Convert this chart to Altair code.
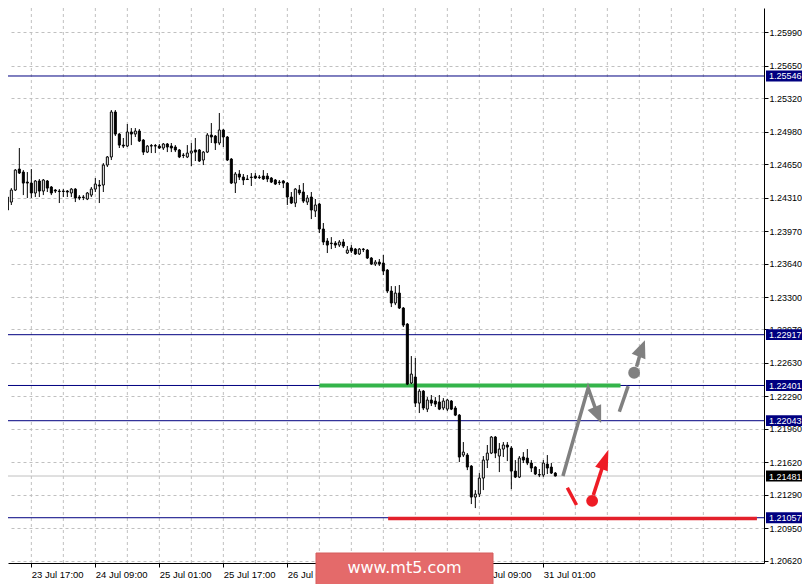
import json
import altair as alt
import pandas as pd

# ---------------- data (H1 bars, 23 Jul 09:00 ... 31 Jul 04:00) ----------------
bar_open = [1.24529, 1.24540, 1.24316, 1.24265, 1.24387, 1.24600, 1.24570, 1.24468, 1.24458, 1.24357,
            1.24479, 1.24377, 1.24479, 1.24418, 1.24387, 1.24377, 1.24377, 1.24377, 1.24357, 1.24397,
            1.24316, 1.24316, 1.24296, 1.24336, 1.24397, 1.24438, 1.24438, 1.24641, 1.24723, 1.25180,
            1.24956, 1.24844, 1.24834, 1.24977, 1.24956, 1.24987, 1.24895, 1.24773, 1.24839, 1.24839,
            1.24834, 1.24814, 1.24855, 1.24834, 1.24824, 1.24794, 1.24743, 1.24723, 1.24763, 1.24794,
            1.24794, 1.24692, 1.24773, 1.24946, 1.24936, 1.24865, 1.24997, 1.24926, 1.24702, 1.24458,
            1.24550, 1.24519, 1.24499, 1.24519, 1.24529, 1.24519, 1.24529, 1.24529, 1.24509, 1.24489,
            1.24468, 1.24479, 1.24458, 1.24316, 1.24255, 1.24387, 1.24367, 1.24265, 1.24316, 1.24174,
            1.24245, 1.23991, 1.23869, 1.23848, 1.23848, 1.23828, 1.23859, 1.23747, 1.23798, 1.23787,
            1.23737, 1.23787, 1.23777, 1.23696, 1.23635, 1.23655, 1.23645, 1.23574, 1.23361, 1.23239,
            1.23340, 1.23188, 1.23025, 1.22426, 1.22487, 1.22222, 1.22344, 1.22161, 1.22253, 1.22243,
            1.22233, 1.22172, 1.22161, 1.22243, 1.22172, 1.22100, 1.21694, 1.21694, 1.21582, 1.21267,
            1.21297, 1.21460, 1.21643, 1.21714, 1.21877, 1.21684, 1.21755, 1.21796, 1.21765, 1.21531,
            1.21470, 1.21674, 1.21663, 1.21613, 1.21572, 1.21496, 1.21491, 1.21602, 1.21572, 1.21511]
bar_high = [1.24570, 1.24560, 1.24336, 1.24407, 1.24600, 1.24814, 1.24590, 1.24570, 1.24600, 1.24489,
            1.24499, 1.24499, 1.24489, 1.24428, 1.24397, 1.24397, 1.24397, 1.24387, 1.24407, 1.24407,
            1.24336, 1.24336, 1.24367, 1.24418, 1.24509, 1.24489, 1.24661, 1.24733, 1.25200, 1.25200,
            1.24966, 1.24916, 1.25058, 1.25017, 1.25017, 1.25007, 1.24905, 1.24844, 1.24855, 1.24855,
            1.24855, 1.24865, 1.24865, 1.24865, 1.24844, 1.24804, 1.24763, 1.24844, 1.24865, 1.24916,
            1.24804, 1.24783, 1.24966, 1.25068, 1.24946, 1.25170, 1.25007, 1.24936, 1.24712, 1.24570,
            1.24590, 1.24550, 1.24540, 1.24560, 1.24560, 1.24540, 1.24590, 1.24560, 1.24519, 1.24499,
            1.24489, 1.24489, 1.24468, 1.24367, 1.24407, 1.24438, 1.24458, 1.24336, 1.24367, 1.24296,
            1.24255, 1.24052, 1.23899, 1.23909, 1.23869, 1.23879, 1.23889, 1.23818, 1.23828, 1.23798,
            1.23798, 1.23798, 1.23787, 1.23706, 1.23676, 1.23686, 1.23727, 1.23584, 1.23411, 1.23411,
            1.23422, 1.23198, 1.23035, 1.22700, 1.22680, 1.22365, 1.22354, 1.22283, 1.22304, 1.22283,
            1.22304, 1.22273, 1.22263, 1.22253, 1.22192, 1.22111, 1.21826, 1.21714, 1.21592, 1.21338,
            1.21511, 1.21684, 1.21796, 1.21887, 1.21887, 1.21816, 1.21826, 1.21826, 1.21785, 1.21643,
            1.21684, 1.21724, 1.21755, 1.21643, 1.21582, 1.21552, 1.21643, 1.21694, 1.21613, 1.21521]
bar_low = [1.24387, 1.24316, 1.24164, 1.24235, 1.24377, 1.24550, 1.24336, 1.24306, 1.24306, 1.24316,
           1.24316, 1.24336, 1.24367, 1.24336, 1.24357, 1.24255, 1.24316, 1.24316, 1.24316, 1.24265,
           1.24285, 1.24285, 1.24285, 1.24316, 1.24367, 1.24255, 1.24367, 1.24621, 1.24692, 1.24936,
           1.24814, 1.24814, 1.24824, 1.24844, 1.24926, 1.24875, 1.24743, 1.24763, 1.24763, 1.24763,
           1.24804, 1.24794, 1.24773, 1.24773, 1.24773, 1.24712, 1.24712, 1.24712, 1.24631, 1.24682,
           1.24672, 1.24641, 1.24763, 1.24865, 1.24794, 1.24844, 1.24824, 1.24682, 1.24448, 1.24357,
           1.24489, 1.24438, 1.24489, 1.24428, 1.24499, 1.24499, 1.24489, 1.24468, 1.24458, 1.24438,
           1.24438, 1.24407, 1.24235, 1.24245, 1.24214, 1.24336, 1.24255, 1.24235, 1.24092, 1.24113,
           1.23950, 1.23828, 1.23747, 1.23787, 1.23798, 1.23808, 1.23798, 1.23737, 1.23747, 1.23727,
           1.23727, 1.23757, 1.23686, 1.23625, 1.23615, 1.23615, 1.23523, 1.23340, 1.23198, 1.23218,
           1.23178, 1.22995, 1.22405, 1.22415, 1.22182, 1.22121, 1.22151, 1.22131, 1.22192, 1.22182,
           1.22151, 1.22151, 1.22141, 1.22151, 1.22090, 1.21623, 1.21674, 1.21541, 1.21196, 1.21155,
           1.21267, 1.21338, 1.21562, 1.21704, 1.21663, 1.21521, 1.21674, 1.21633, 1.21348, 1.21460,
           1.21460, 1.21613, 1.21592, 1.21521, 1.21491, 1.21470, 1.21470, 1.21501, 1.21501, 1.21476]
bar_close = [1.24428, 1.24407, 1.24184, 1.24387, 1.24590, 1.24560, 1.24458, 1.24458, 1.24357, 1.24479,
             1.24377, 1.24489, 1.24407, 1.24357, 1.24377, 1.24372, 1.24372, 1.24367, 1.24397, 1.24306,
             1.24306, 1.24311, 1.24357, 1.24397, 1.24448, 1.24428, 1.24641, 1.24723, 1.25180, 1.24956,
             1.24844, 1.24834, 1.24977, 1.24956, 1.24987, 1.24885, 1.24773, 1.24834, 1.24834, 1.24834,
             1.24814, 1.24855, 1.24824, 1.24814, 1.24794, 1.24723, 1.24738, 1.24763, 1.24783, 1.24773,
             1.24682, 1.24773, 1.24946, 1.24926, 1.24865, 1.24997, 1.24926, 1.24692, 1.24458, 1.24550,
             1.24519, 1.24489, 1.24494, 1.24514, 1.24509, 1.24514, 1.24499, 1.24499, 1.24468, 1.24448,
             1.24463, 1.24458, 1.24316, 1.24255, 1.24397, 1.24357, 1.24275, 1.24306, 1.24184, 1.24235,
             1.23991, 1.23859, 1.23828, 1.23843, 1.23828, 1.23859, 1.23818, 1.23777, 1.23767, 1.23737,
             1.23787, 1.23782, 1.23696, 1.23635, 1.23655, 1.23635, 1.23564, 1.23361, 1.23239, 1.23340,
             1.23188, 1.23015, 1.22415, 1.22517, 1.22222, 1.22344, 1.22172, 1.22253, 1.22222, 1.22212,
             1.22161, 1.22243, 1.22253, 1.22161, 1.22100, 1.21674, 1.21724, 1.21572, 1.21267, 1.21297,
             1.21460, 1.21643, 1.21714, 1.21877, 1.21714, 1.21755, 1.21796, 1.21775, 1.21531, 1.21470,
             1.21663, 1.21643, 1.21613, 1.21562, 1.21501, 1.21491, 1.21613, 1.21562, 1.21511, 1.21481]

time_label_bars = [8, 24, 40, 56, 72, 88, 104, 120, 136]
time_labels = ["23 Jul 17:00", "24 Jul 09:00", "25 Jul 01:00", "25 Jul 17:00", "26 Jul 09:00",
               "27 Jul 01:00", "27 Jul 17:00", "30 Jul 09:00", "31 Jul 01:00"]
vgrid_bars = [8, 16, 24, 32, 40, 48, 56, 64, 72, 80, 88, 96, 104, 112, 120, 128, 136, 144, 152,
              160, 168, 176, 184]
price_ticks = [1.25990, 1.25650, 1.25320, 1.24980, 1.24650, 1.24310, 1.23970, 1.23640, 1.23300,
               1.22970, 1.22630, 1.22290, 1.21960, 1.21620, 1.21290, 1.20950, 1.20620]

levels = [1.25546, 1.22917, 1.22401, 1.22043, 1.21057]
bid_price = 1.21481

green_zone = {"k": 80.0, "k2": 155.3, "p": 1.22401}
red_zone = {"k": 97.2, "k2": 189.4, "p": 1.21050}

line_seg = ["g1", "g1", "g1", "g2", "g2", "g3", "g3", "r1", "r1", "r2", "r2"]
line_k = [140.9, 147.2, 149.6, 155.0, 157.2, 159.3, 160.6, 142.0, 144.3, 148.5, 151.4]
line_p = [1.21481, 1.22375, 1.22100, 1.22134, 1.22395, 1.22591, 1.22778, 1.21362, 1.21186, 1.21287, 1.21650]
line_col = ["#808080"] * 7 + ["#ee1c25"] * 4

circle_k = [158.7, 148.2]
circle_p = [1.22530, 1.21229]
circle_col = ["#808080", "#ee1c25"]

head_k = [149.6, 160.6, 151.4]
head_p = [1.22100, 1.22778, 1.21650]
head_angle = [157, 21.5, 19.7]

# ---------------- frames ----------------
bars = pd.DataFrame({"k": list(range(len(bar_open))), "open": bar_open, "high": bar_high,
                     "low": bar_low, "close": bar_close})
vgrid = pd.DataFrame({"k": vgrid_bars})
lev_df = pd.DataFrame({"p": levels})
tags = pd.DataFrame({"p": levels + [bid_price],
                     "txt": [f"{v:.5f}" for v in levels + [bid_price]],
                     "col": ["#000080"] * len(levels) + ["#000000"]})
lines_df = pd.DataFrame({"seg": line_seg, "k": line_k, "p": line_p, "col": line_col,
                         "seq": list(range(len(line_k)))})
circ_df = pd.DataFrame({"k": circle_k, "p": circle_p, "col": circle_col})
gray_heads = pd.DataFrame({"k": head_k[:2], "p": head_p[:2], "a": head_angle[:2]})
red_heads = pd.DataFrame({"k": head_k[2:], "p": head_p[2:], "a": head_angle[2:]})

W, H = 756, 555
sx = alt.Scale(domain=[2.1675, 191.1675], nice=False, zero=False, padding=0)
sy = alt.Scale(domain=[1.20597, 1.26237], nice=False, zero=False, padding=0)
FONT = "Liberation Sans"
FS = 9

label_expr = f"{json.dumps(time_labels)}[(datum.value - 8) / 16]"
x_axis = alt.Axis(values=time_label_bars, labelExpr=label_expr, title=None, grid=False,
                  domainColor="black", tickColor="black", tickSize=4, labelColor="black",
                  labelFont=FONT, labelFontSize=9.5, labelAlign="left", labelPadding=2,
                  labelOverlap=False, labelFlush=False, labelBound=False)
y_axis = alt.Axis(values=price_ticks, format=".5f", orient="right", title=None, grid=True,
                  gridDash=[3, 3], gridColor="#c0c0c0", domainColor="black", tickColor="black",
                  tickSize=4, labelColor="black", labelFont=FONT, labelFontSize=FS,
                  labelPadding=1, labelOverlap=False, labelFlush=False, labelBound=False)


def X(f="k"):
    return alt.X(f"{f}:Q", scale=sx, axis=x_axis)


def Y(f="p"):
    return alt.Y(f"{f}:Q", scale=sy, axis=y_axis)


grid_layer = alt.Chart(vgrid).mark_rule(color="#c0c0c0", strokeDash=[3, 3], strokeWidth=1).encode(
    x=X("k"))
lev_layer = alt.Chart(lev_df).mark_rule(color="#000080", strokeWidth=1).encode(y=Y("p"))
bid_layer = alt.Chart(pd.DataFrame({"p": [bid_price]})).mark_rule(color="#c0c0c0", strokeWidth=1).encode(y=Y())
green_layer = alt.Chart(pd.DataFrame([green_zone])).mark_rule(color="#34b44a", strokeWidth=4).encode(
    x=X(), x2="k2:Q", y=Y())
red_layer = alt.Chart(pd.DataFrame([red_zone])).mark_rule(color="#e3202b", strokeWidth=3.5).encode(
    x=X(), x2="k2:Q", y=Y())

wick = alt.Chart(bars).mark_rule(color="black", strokeWidth=1, clip=True).encode(
    x=X(), y=Y("low"), y2="high:Q")
body = alt.Chart(bars).mark_bar(size=2, stroke="black", strokeWidth=1, clip=True).encode(
    x=X(), y=Y("open"), y2="close:Q",
    fill=alt.condition("datum.close > datum.open", alt.value("white"), alt.value("black")))

ann_lines = alt.Chart(lines_df).mark_line(strokeWidth=3.5).encode(
    x=X(), y=Y(), detail="seg:N", order="seq:Q", color=alt.Color("col:N", scale=None))
ann_circ = alt.Chart(circ_df).mark_point(shape="circle", filled=True, size=140, opacity=1).encode(
    x=X(), y=Y(), color=alt.Color("col:N", scale=None))
g_heads = alt.Chart(gray_heads).mark_point(shape="M0,-1L0.85,1L-0.85,1Z", filled=True, size=300,
                                           opacity=1, color="#808080").encode(
    x=X(), y=Y(), angle=alt.Angle("a:Q", scale=None))
r_heads = alt.Chart(red_heads).mark_point(shape="M0,-1L0.65,1L-0.65,1Z", filled=True, size=420,
                                          opacity=1, color="#ee1c25").encode(
    x=X(), y=Y(), angle=alt.Angle("a:Q", scale=None))

tag_box = alt.Chart(tags).mark_point(shape="M-1,-0.3L1,-0.3L1,0.3L-1,0.3Z", filled=True,
                                     size=1296, opacity=1, clip=False).encode(
    x=alt.value(W + 20), y=Y(), color=alt.Color("col:N", scale=None))
tag_txt = alt.Chart(tags).mark_text(align="left", baseline="middle", color="white", font=FONT,
                                    fontSize=FS, clip=False, dy=0.5).encode(
    x=alt.value(W + 5), y=Y(), text="txt:N")

wm_box = alt.Chart(pd.DataFrame({"t": ["www.mt5.com"]})).mark_rect(
    color="#e46a6a", stroke="#d45c5c", strokeWidth=1, clip=False).encode(
    x=alt.value(308), x2=alt.value(485), y=alt.value(545), y2=alt.value(580))
wm_txt = alt.Chart(pd.DataFrame({"t": ["www.mt5.com"]})).mark_text(
    color="white", font="DejaVu Sans", fontSize=16, align="center", baseline="middle",
    clip=False).encode(x=alt.value(396.5), y=alt.value(560), text="t:N")

chart = alt.layer(grid_layer, lev_layer, bid_layer, green_layer, red_layer, wick, body,
                  ann_lines, ann_circ, g_heads, r_heads, tag_box, tag_txt, wm_box, wm_txt).properties(
    width=W, height=H, background="white",
    autosize=alt.AutoSizeParams(type="none"),
    padding={"left": 0, "top": 0, "right": 38, "bottom": 21},
).configure_view(stroke=None)

chart.save("out.html", embed_options={"renderer": "svg", "actions": False})
